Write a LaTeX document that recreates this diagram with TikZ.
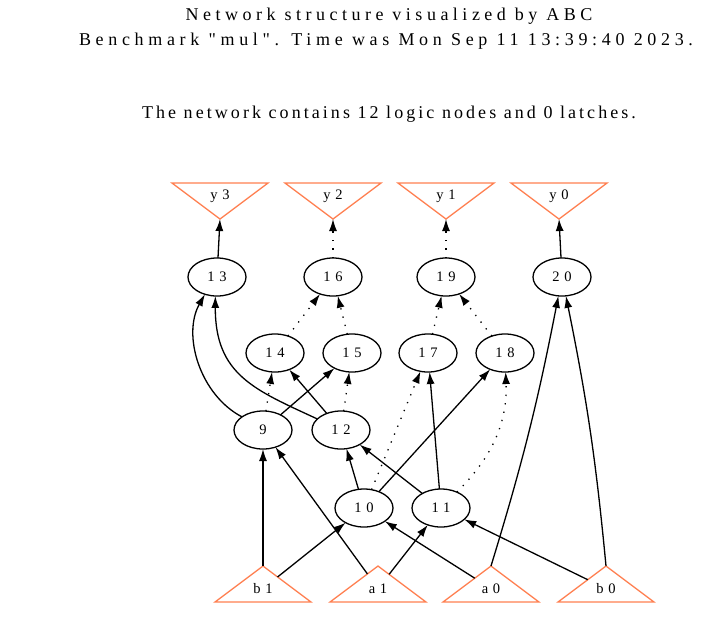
\documentclass[tikz,border=0pt]{standalone}
\usepackage{fontspec}
\setmainfont{Liberation Serif}[Ligatures=TeXOff]
\usetikzlibrary{shapes.geometric,arrows.meta}
\definecolor{coral}{RGB}{255,127,80}
\newcommand{\headfont}{\fontsize{18}{25}\selectfont}
\newcommand{\gatefont}{\fontsize{14.5}{16}\selectfont\addfontfeatures{LetterSpace=32}}
\tikzset{
  gate/.style={ellipse, draw, line width=1.3pt, minimum width=58pt, minimum height=38pt, inner sep=0pt, outer sep=0pt, font=\gatefont},
  port/.style={isosceles triangle, isosceles triangle stretches, draw=coral, line width=1.3pt, minimum width=96pt, minimum height=36pt, inner sep=0pt, outer sep=0pt, font=\gatefont},
  portout/.style={port, shape border rotate=270},
  portin/.style={port, shape border rotate=90},
  link/.style={line width=1.3pt, -{Latex[length=12pt,width=8pt]}},
  weak/.style={link, dash pattern=on 1.3pt off 7.2pt},
  head/.style={anchor=base, font=\headfont},
}
\begin{document}
\begin{tikzpicture}[x=1pt,y=1pt]
\useasboundingbox (0,0) rectangle (712,-619);

% titles
\node[head] (title) at (389,-20)
  {\addfontfeatures{LetterSpace=25}Network structure visualized by ABC};
\node[head] (bench) at (386,-45)
  {\addfontfeatures{LetterSpace=26}Benchmark "mul". Time was Mon Sep 11 13:39:40 2023.};
\node[head] (info) at (389,-118)
  {\addfontfeatures{LetterSpace=17}The network contains 12 logic nodes and 0 latches.};

% outputs
\node[portout, anchor=apex] (y3) at (220,-219) {y3};
\node[portout, anchor=apex] (y2) at (333,-219) {y2};
\node[portout, anchor=apex] (y1) at (446,-219) {y1};
\node[portout, anchor=apex] (y0) at (559,-219) {y0};

% logic nodes
\node[gate] (n13) at (217,-277) {13};
\node[gate] (n16) at (333,-277) {16};
\node[gate] (n19) at (446,-277) {19};
\node[gate] (n20) at (562,-277) {20};
\node[gate] (n14) at (275,-353) {14};
\node[gate] (n15) at (352,-353) {15};
\node[gate] (n17) at (428,-353) {17};
\node[gate] (n18) at (505,-353) {18};
\node[gate] (n9) at (263,-430) {9};
\node[gate] (n12) at (341,-430) {12};
\node[gate] (n10) at (364,-508) {10};
\node[gate] (n11) at (441,-508) {11};

% inputs
\node[portin, anchor=apex] (b1) at (263,-566) {b1};
\node[portin, anchor=apex] (a1) at (378,-566) {a1};
\node[portin, anchor=apex] (a0) at (491,-566) {a0};
\node[portin, anchor=apex] (b0) at (606,-566) {b0};

% to the outputs
\draw[link] (n13) -- (y3.apex);
\draw[weak] (n16) -- (y2.apex);
\draw[weak] (n19) -- (y1.apex);
\draw[link] (n20) -- (y0.apex);

% second level
\draw[weak] (n14) -- (n16);
\draw[weak] (n15) -- (n16);
\draw[weak] (n17) -- (n19);
\draw[weak] (n18) -- (n19);
\draw[link] (n9.148) .. controls (200,-395) and (182,-335) .. (n13.235);
\draw[link] (n12.155) .. controls (255,-390) and (215,-375) .. (n13.265);
\draw[link] (a0.apex) to[bend right=3] (n20);
\draw[link] (b0.apex) to[bend right=3] (n20);

% third level
\draw[weak] (n9) -- (n14);
\draw[link] (n12) -- (n14);
\draw[link] (n9) -- (n15);
\draw[weak] (n12) -- (n15);
\draw[weak] (n10) -- (n17);
\draw[link] (n11) -- (n17);
\draw[link] (n10) -- (n18);
\draw[weak] (n11) to[out=45,in=-88] (n18);

% fourth level
\draw[link] (n10) -- (n12);
\draw[link] (n11) -- (n12);

% from the inputs
\draw[link] (b1.apex) -- (n9);
\draw[link] (a1) -- (n9);
\draw[link] (b1) -- (n10);
\draw[link] (a0) -- (n10);
\draw[link] (a1) -- (n11);
\draw[link] (b0) -- (n11);

\end{tikzpicture}
\end{document}
